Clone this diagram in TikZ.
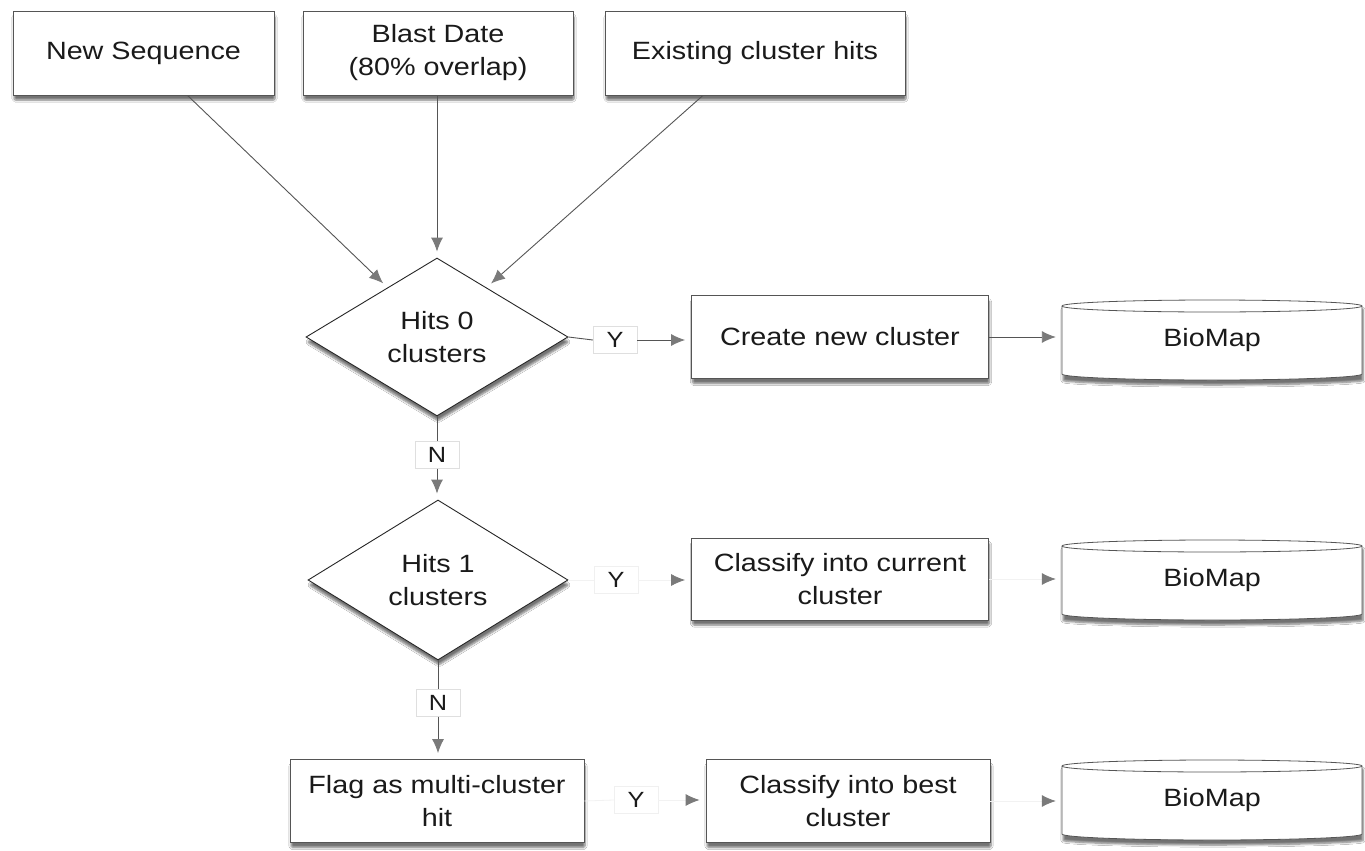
\documentclass[tikz,border=0pt]{standalone}
\usepackage{fontspec}
\setmainfont{Liberation Sans}
\newfontfamily\boxfont[FakeStretch=1.15]{Liberation Sans}
\usetikzlibrary{shapes.geometric,shadows.blur,arrows.meta,calc}
\definecolor{linec}{HTML}{555555}
\definecolor{headc}{HTML}{7A7A7A}
\definecolor{txtc}{HTML}{1A1A1A}
\tikzset{
  shad/.style={blur shadow={shadow blur steps=6, shadow xshift=1pt, shadow yshift=-5pt, shadow opacity=55, shadow blur extra rounding=1.5pt}},
  box/.style={draw=linec, line width=0.8pt, fill=white, shad, align=center, text=txtc,
    font=\boxfont\fontsize{25}{33}\selectfont, inner sep=2pt},
  dia/.style={diamond, aspect=1.66, draw=black!85, line width=0.9pt, fill=white, shad, align=center, text=txtc,
    font=\boxfont\fontsize{25}{33}\selectfont, inner sep=0pt},
  lab/.style={draw=gray!25, fill=white, text=txtc, font=\boxfont\fontsize{22}{24}\selectfont,
    minimum width=44pt, minimum height=27pt, inner sep=1pt},
  dbtext/.style={draw=none, text=txtc, font=\boxfont\fontsize{25}{30}\selectfont, minimum width=300pt, minimum height=80pt},
  cylfill/.style={draw=linec, line width=0.8pt, fill=white, shad},
  cylline/.style={draw=linec, line width=0.8pt},
  plain/.style={draw=linec, line width=0.9pt},
  conn/.style={draw=linec, line width=0.9pt, -{Latex[length=14pt,width=12pt,color=headc]}, shorten >=6pt},
  faint/.style={draw=gray!10, line width=0.8pt},
  faintconn/.style={draw=gray!10, line width=0.8pt, -{Latex[length=14pt,width=12pt,color=headc]}, shorten >=6pt},
}
\newcommand\biomap[3]{%
  \path[cylfill] (#2-150,#3+34) arc[start angle=180,end angle=0,x radius=150pt,y radius=6pt]
     -- (#2+150,#3-34) arc[start angle=0,end angle=-180,x radius=150pt,y radius=6pt] -- cycle;
  \draw[cylline] (#2-150,#3+34) arc[start angle=180,end angle=360,x radius=150pt,y radius=6pt];
  \node[dbtext] (#1) at (#2,#3) {BioMap};
}
\begin{document}
\begin{tikzpicture}[x=1pt,y=1pt]
\useasboundingbox[fill=white] (0,0) rectangle (1365,-851);

% top inputs
\node[box, minimum width=261pt, minimum height=84pt] (ns) at (143.5,-53) {New Sequence};
\node[box, minimum width=270pt, minimum height=84pt] (bd) at (438,-53) {Blast Date\\(80\% overlap)};
\node[box, minimum width=300pt, minimum height=84pt] (ex) at (755,-53) {Existing cluster hits};

% row 1
\node[dia, minimum width=262pt, minimum height=158pt] (d1) at (437,-337) {Hits 0\\clusters};
\node[lab] (Y1) at (615,-340) {Y};
\node[box, minimum width=297pt, minimum height=83pt] (cnc) at (840,-337) {Create new cluster};
\biomap{bm1}{1212}{-340}

% row 2
\node[lab] (N1) at (437,-455) {N};
\node[dia, minimum width=260pt, minimum height=160pt] (d2) at (438,-580) {Hits 1\\clusters};
\node[lab, draw=gray!12] (Y2) at (616,-580) {Y};
\node[box, minimum width=297pt, minimum height=82pt] (c1) at (840,-579) {Classify into current\\cluster};
\biomap{bm2}{1212}{-580}

% row 3
\node[lab] (N2) at (438,-703) {N};
\node[box, minimum width=294pt, minimum height=83pt] (flag) at (437,-801) {Flag as multi-cluster\\hit};
\node[lab, draw=gray!12] (Y3) at (636,-800) {Y};
\node[box, minimum width=284pt, minimum height=83pt] (cb) at (848,-801) {Classify into best\\cluster};
\biomap{bm3}{1212}{-800}

% connectors
\draw[conn] ([xshift=44pt]ns.south) -- (d1.135);
\draw[conn] (d1.north |- bd.south) -- (d1.north);
\draw[conn] ([xshift=-52pt]ex.south) -- (d1.45);

\draw[plain] (d1.east) -- (Y1.west);
\draw[conn] (Y1.east) -- (Y1.east -| cnc.west);
\draw[conn] (cnc.east) -- (cnc.east -| bm1.west);

\draw[plain] (d1.south) -- (N1.north);
\draw[conn] (N1.south) -- (N1.south |- d2.north);

\draw[faint] (d2.east) -- (Y2.west);
\draw[faintconn] (Y2.east) -- (Y2.east -| c1.west);
\draw[faintconn] (c1.east) -- (c1.east -| bm2.west);

\draw[plain] (d2.south) -- (N2.north);
\draw[conn] (N2.south) -- (N2.south |- flag.north);

\draw[faint] (flag.east) -- (Y3.west);
\draw[faintconn] (Y3.east) -- (Y3.east -| cb.west);
\draw[faintconn] (cb.east) -- (cb.east -| bm3.west);
\end{tikzpicture}
\end{document}
